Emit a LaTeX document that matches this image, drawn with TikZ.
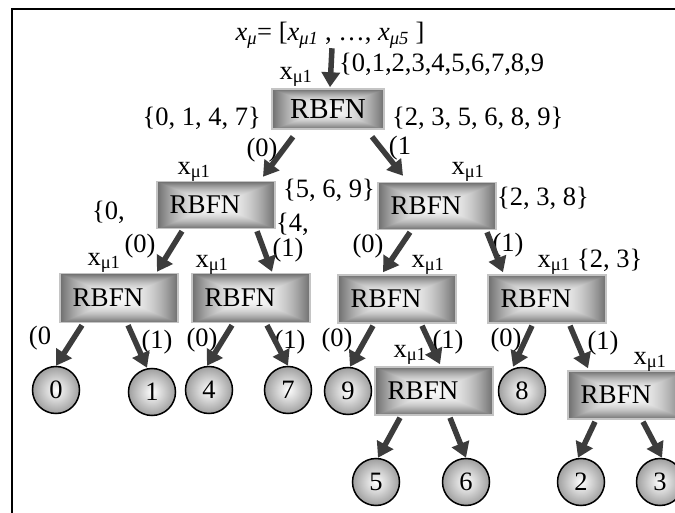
\documentclass[tikz,border=0pt]{standalone}
\usepackage{fontspec}
\setmainfont{Liberation Serif}
\usetikzlibrary{arrows.meta, positioning}

\definecolor{arrowgray}{HTML}{3C3C3C}
\definecolor{boxedge}{HTML}{C4C4C4}

% light centre, dark rim
\pgfdeclarefunctionalshading{boxshade}{\pgfpointorigin}{\pgfpoint{100bp}{100bp}}{}{
  50 sub abs exch 50 sub abs 2 copy lt {exch} if pop 25 div
  dup 1 gt {pop 1} if
  dup mul -0.54 mul 0.97 add dup dup
}

\newcommand{\diagfont}{\fontsize{26.5}{28}\selectfont}
\newcommand{\xmuone}{x\textsubscript{μ1}}
\newcommand{\rbfnlabel}{RBFN\kern22pt}

\tikzstyle{rbfn} = [rectangle, minimum width=118pt, minimum height=47pt, draw=boxedge, line width=1.5pt, shading=boxshade, font=\fontsize{27}{29}\selectfont]
\tikzstyle{leaf} = [circle, minimum size=47pt, inner sep=0pt, draw=black, line width=1.5pt, inner color=white, outer color=gray!75, font=\diagfont]
\tikzstyle{lbl} = [inner sep=0pt, font=\diagfont]
\tikzstyle{arrow} = [line width=5.5pt, draw=arrowgray, -{Triangle[length=15pt,width=18pt]}]

\begin{document}
\begin{tikzpicture}[x=1pt, y=-1pt]

\fill[white] (0,0) rectangle (675,513);
\useasboundingbox (0,0) rectangle (675,513);
\draw[line width=2.5pt] (12,520) -- (12,9) -- (690,9);

% Root
\node (title) [lbl] at (330,35) {\textit{x\textsubscript{μ}}= [\textit{x\textsubscript{μ1}} , …, \textit{x\textsubscript{μ5}} ]};
\node (root) [rbfn, minimum width=112pt, minimum height=40pt, font=\fontsize{29}{31}\selectfont] at (328,109) {RBFN};
\node (x-root) [lbl] at (296,77) {\xmuone};
\node (s-all) [lbl, anchor=west] at (339,64) {\{0,1,2,3,4,5,6,7,8,9};
\node (s-root-l) [lbl, anchor=east] at (261,118) {\{0, 1, 4, 7\}};
\node (s-root-r) [lbl, anchor=west] at (392,118) {\{2, 3, 5, 6, 8, 9\}};
\node (b-root-l) [lbl] at (262,150) {(0)};
\node (b-root-r) [lbl] at (400,148) {(1};

% Left branch
\node (l) [rbfn] at (216,205) {\rbfnlabel};
\node (x-l) [lbl] at (194,172) {\xmuone};
\node (s-l-l) [lbl, anchor=west] at (92,212) {\{0,};
\node (s-l-r) [lbl, anchor=west] at (276,224) {\{4,};
\node (b-l-l) [lbl] at (140,246) {(0)};
\node (b-l-r) [lbl] at (288,250) {(1)};

\node (a) [rbfn, minimum height=49pt] at (119,298) {\rbfnlabel};
\node (x-a) [lbl] at (104,263) {\xmuone};
\node (b-a-l) [lbl] at (40,338) {(0};
\node (b-a-r) [lbl] at (157,342) {(1)};
\node (leaf0) [leaf] at (56,390) {0};
\node (leaf1) [leaf] at (152,392) {1};

\node (b) [rbfn, minimum height=49pt] at (251,298) {\rbfnlabel};
\node (x-b) [lbl] at (212,265) {\xmuone};
\node (b-b-l) [lbl] at (202,340) {(0)};
\node (b-b-r) [lbl] at (290,342) {(1)};
\node (leaf4) [leaf] at (209,390) {4};
\node (leaf7) [leaf] at (288,390) {7};

% Right branch
\node (r) [rbfn] at (437,206) {\rbfnlabel};
\node (x-r) [lbl] at (468,172) {\xmuone};
\node (s-r-l) [lbl, anchor=east] at (375,190) {\{5, 6, 9\}};
\node (s-r-r) [lbl, anchor=west] at (497,198) {\{2, 3, 8\}};
\node (b-r-l) [lbl] at (368,246) {(0)};
\node (b-r-r) [lbl] at (508,245) {(1)};

\node (c) [rbfn, minimum height=48pt] at (397,299) {\rbfnlabel};
\node (x-c) [lbl] at (428,265) {\xmuone};
\node (b-c-l) [lbl] at (337,340) {(0)};
\node (b-c-r) [lbl] at (448,342) {(1)};
\node (leaf9) [leaf] at (348,391) {9};

\node (e) [rbfn, minimum height=48pt] at (434,391) {\rbfnlabel};
\node (x-e) [lbl] at (410,355) {\xmuone};
\node (leaf5) [leaf] at (376,482) {5};
\node (leaf6) [leaf] at (466,482) {6};

\node (d) [rbfn, minimum height=48pt] at (547,299) {\rbfnlabel};
\node (x-d) [lbl] at (554,265) {\xmuone};
\node (s-d) [lbl, anchor=west] at (577,260) {\{2, 3\}};
\node (b-d-l) [lbl] at (506,340) {(0)};
\node (b-d-r) [lbl] at (603,343) {(1)};
\node (leaf8) [leaf] at (522,391) {8};

\node (f) [rbfn, minimum height=48pt] at (627,395) {\rbfnlabel};
\node (x-f) [lbl] at (650,362) {\xmuone};
\node (leaf2) [leaf] at (581,482) {2};
\node (leaf3) [leaf] at (660,482) {3};

% Arrows
\draw[arrow] ([xshift=2pt]title.south) -- ([xshift=2pt,yshift=1pt]root.north);
\draw[arrow] ([xshift=-35pt,yshift=-7pt]root.south) -- ([xshift=47pt,yshift=4pt]l.north);
\draw[arrow] ([xshift=44pt,yshift=-7pt]root.south) -- ([xshift=-34pt,yshift=6pt]r.north);
\draw[arrow] ([xshift=-34pt,yshift=-2pt]l.south) -- ([xshift=38pt,yshift=1pt]a.north);
\draw[arrow] ([xshift=41pt,yshift=-2pt]l.south) -- ([xshift=21pt,yshift=1pt]b.north);
\draw[arrow] ([xshift=-27pt,yshift=-2pt]r.south) -- ([xshift=-14pt,yshift=2pt]c.north);
\draw[arrow] ([xshift=50pt,yshift=-2pt]r.south) -- ([xshift=-44pt,yshift=2pt]d.north);
\draw[arrow] ([xshift=-37pt,yshift=-2pt]a.south) -- (leaf0.north);
\draw[arrow] ([xshift=9pt,yshift=-2pt]a.south) -- ([xshift=-5pt]leaf1.north);
\draw[arrow] ([xshift=-19pt,yshift=-2pt]b.south) -- ([xshift=-2pt]leaf4.north);
\draw[arrow] ([xshift=16pt,yshift=-2pt]b.south) -- (leaf7.north);
\draw[arrow] ([xshift=-24pt,yshift=-2pt]c.south) -- ([xshift=2pt]leaf9.north);
\draw[arrow] ([xshift=25pt,yshift=-2pt]c.south) -- ([xshift=6pt,yshift=2pt]e.north);
\draw[arrow] ([xshift=-15pt,yshift=-2pt]d.south) -- ([xshift=-9pt]leaf8.north);
\draw[arrow] ([xshift=23pt,yshift=-2pt]d.south) -- ([xshift=-39pt,yshift=2pt]f.north);
\draw[arrow] ([xshift=-34pt,yshift=-2pt]e.south) -- ([xshift=2pt]leaf5.north);
\draw[arrow] ([xshift=16pt,yshift=-2pt]e.south) -- (leaf6.north);
\draw[arrow] ([xshift=-32pt,yshift=-2pt]f.south) -- ([xshift=-3pt]leaf2.north);
\draw[arrow] ([xshift=16pt,yshift=-2pt]f.south) -- ([xshift=2pt]leaf3.north);

\end{tikzpicture}
\end{document}
